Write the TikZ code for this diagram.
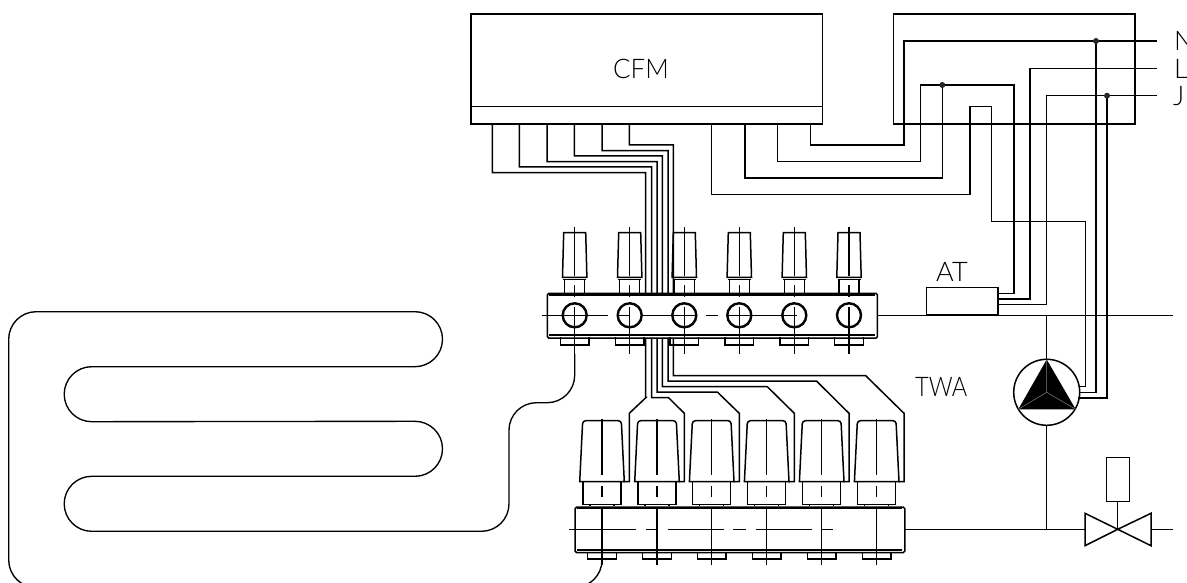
\documentclass[tikz,border=0pt]{standalone}
\usepackage{fontspec}
\newfontfamily\lblfont[UprightFont=* Light]{Lato}
\tikzset{
  wire/.style={line width=1.5pt,line join=miter},
  thin wire/.style={line width=1.35pt},
  heavy/.style={line width=2.4pt},
  part/.style={draw,line width=1.5pt,rectangle,inner sep=0pt,minimum width=#1},
  tag/.style={inner sep=0pt,anchor=base west,font=\lblfont\fontsize{27}{27}\selectfont},
  joint/.style={circle,fill=black!85,inner sep=0pt,minimum size=6pt},
}
\begin{document}
\begin{tikzpicture}[x=1pt,y=-1pt]
\useasboundingbox (0,0) rectangle (1187,583);
\clip (0,0) rectangle (1187,583);

% --- control module
\node[part=351.7pt,minimum height=110pt,anchor=north west] (cfm) at (470,13.3) {};
\draw[wire] (470,106.7) -- (821.7,106.7);
\node[tag,xscale=.96] (cfmt) at (613,79) {CFM};

% --- junction frame
\node[part=241.6pt,minimum height=110pt,anchor=north west] (frame) at (892.7,13.3) {};

% --- terminals
\node[tag] (tN) at (1174,51) {N};
\node[tag] (tL) at (1174,78.5) {L};
\node[tag] (tJ) at (1173,106) {J};
\coordinate (N) at (1156.7,41);
\coordinate (L) at (1156.7,68.3);
\coordinate (J) at (1156.7,95.7);

% --- thermostat, pump, actuated valve
\node[part=71.6pt,minimum height=27.3pt,anchor=south west] (at) at (925.7,315.3) {};
\node[tag] (att) at (936,281.7) {AT};
\node[tag,xscale=.87] (twat) at (915,396.7) {TWA};
\node[circle,draw,line width=1.5pt,minimum size=66pt,inner sep=0pt] (pump) at (1046.7,392.3) {};
\coordinate (pa) at (1046.7,359.5);
\coordinate (pb) at (1018.3,409.3);
\coordinate (pc) at (1075.7,409.3);
\fill[black] (pa) -- (pb) -- (pc) -- cycle;
\draw[gray,line width=.5pt] (pa) -- (pump.center) -- (pb) (pump.center) -- (pc);
\coordinate (vL1) at (1085,513.3);
\coordinate (vL2) at (1085,545.7);
\coordinate (vR1) at (1151,513.3);
\coordinate (vR2) at (1151,545.7);
\coordinate (vC) at (1117.7,529.3);
\draw[wire,line join=miter] (vC) -- (vL1) -- (vL2) -- (vC) -- (vR1) -- (vR2) -- cycle;
\node[part=22.6pt,minimum height=44pt,anchor=south] (act) at (1118,502) {};
\draw[wire] (act.south -| vC) -- (vC);

% --- supply pipes
\coordinate (pipeT) at (1173.3,315.3);
\coordinate (pipeB) at (1173.3,529.3);
\coordinate (teeT) at (1046.7,315.3);
\coordinate (teeB) at (1046.7,529.3);
\draw[wire] (816,315.3) -- (pipeT);
\draw[wire] (843.3,529.3) -- (1085,529.3);
\draw[wire] (1151,529.3) -- (pipeB);
\draw[wire] (teeT) -- (pump.north);
\draw[wire] (pump.south) -- (teeB);

% --- wiring bundle from CFM to the six lower valve heads
\foreach \sx/\hy/\vx/\ny/\kx/\tx/\bx in {
  492.3/172.7/645.7/397.5/646/629.3/623.3,
  519.3/167/651.5/397.5/668.3/684.3/678.3,
  547/161.7/657/392/717.3/739.3/733.3,
  574.3/156/662.3/386.7/767.3/794.3/788.3,
  602/150.7/668/381.2/816.7/849/843.3,
  629.3/145/673.3/375.7/865.7/904/898.3}{
  \draw[wire] (\sx,123.3) -- (\sx,\hy) -- (\vx,\hy) -- (\vx,\ny) -- (\kx,\ny) -- (\tx,413.3) -- (\tx,481.7) -- (\bx,481.7);
}

% --- wiring between CFM, frame, AT, pump
\draw[wire] (810.3,123.3) -- (810.3,145) -- (904,145) -- (904,41) -- (N);
\draw[wire] (777.3,123.3) -- (777.3,161.7) -- (920.3,161.7) -- (920.3,85) -- (1014,85) -- (1014,293.3) -- (997.3,293.3);
\draw[wire] (745,123.3) -- (745,178) -- (942.3,178) -- (942.3,85);
\draw[wire] (711.7,123.3) -- (711.7,194.7) -- (970,194.7) -- (970,106.7) -- (991.7,106.7) -- (991.7,221.7) -- (1085.3,221.7) -- (1085.3,386.7) -- (1079.3,386.7);
\draw[wire] (L) -- (1030,68.3) -- (1030,299) -- (997.3,299);
\draw[wire] (J) -- (1046.7,95.7) -- (1046.7,304.3) -- (997.3,304.3);
\draw[wire] (1096,41) -- (1096,392.3) -- (1079.5,392.3);
\draw[wire] (1107,95.7) -- (1107,398) -- (1077.5,398);
\node[joint] (j1) at (1096,41) {};
\node[joint] (j2) at (942.3,85) {};
\node[joint] (j3) at (1107,95.7) {};

% --- upper manifold
\node[part=330pt,minimum height=44.8pt,anchor=north west,fill=white,rounded corners=1.5pt] (upper) at (546.7,292.6) {};
\draw[wire] (549,295) -- (874.5,295);
\draw[wire] (549,335) -- (874.5,335);
\foreach \a/\b in {542.3/608.3,617.3/630,643.3/696.7,706/718.3,726.7/796.7}
  \draw[wire] (\a,315.3) -- (\b,315.3);
\foreach \x in {574.7,629.7,684.3,739.3,794.3,849}{
  \draw[wire] (\x-11,232.7) -- (\x+11,232.7) -- (\x+12.2,277.3) -- (\x-12.2,277.3) -- cycle;
  \draw[wire] (\x-11.5,279.4) -- (\x+11.5,279.4);
  \draw[wire] (\x-10,279.4) -- (\x-10,292.6) (\x+10,279.4) -- (\x+10,292.6);
  \draw[wire] (\x-14.4,337.4) -- (\x-14.4,345) -- (\x+14.4,345) -- (\x+14.4,337.4);
  \draw[wire] (\x,227.3) -- (\x,276) (\x,285) -- (\x,297) (\x,307) -- (\x,354);
  \draw[heavy] (\x,315.3) circle[radius=12];
}

% --- lower manifold
\node[part=329.7pt,minimum height=45.4pt,anchor=north west,fill=white,rounded corners=1.5pt] (lower) at (574.3,506.4) {};
\draw[wire] (576.5,508.3) -- (901.8,508.3);
\draw[wire] (576.5,549.8) -- (901.8,549.8);
\foreach \a/\b in {569.3/636,646/656.7,667.7/723.7,733.3/746,755.7/811.7,822.3/833.3}
  \draw[wire] (\a,529.3) -- (\b,529.3);
\foreach \x in {602,657,711.7,766.7,821.7,876.7}{
  \draw[wire] (\x-22.3,481.7) [rounded corners=3pt] -- (\x-19.3,420.7) -- (\x+19.3,420.7) [sharp corners] -- (\x+22.3,481.7) -- cycle;
  \draw[wire] (\x-19,481.7) -- (\x-19,504.3) -- (\x+19,504.3) -- (\x+19,481.7);
  \draw[wire] (\x-12,504.3) -- (\x-12,506.4) (\x+12,504.3) -- (\x+12,506.4);
  \draw[wire] (\x-14.3,551.7) -- (\x-14.3,559) -- (\x+14.3,559) -- (\x+14.3,551.7);
  \draw[wire] (\x,419) -- (\x,475) (\x,486) -- (\x,497.3) (\x,508) -- (\x,565);
}

% --- floor heating loop
\coordinate (loopA) at (574.7,354);
\coordinate (loopB) at (602,560);
\draw[thin wire] (loopA) -- (574.7,375.2) arc[start angle=0,end angle=90,radius=27.5] -- (536.5,402.7)
  arc[start angle=270,end angle=180,radius=27.5] -- (509,503.8)
  arc[start angle=0,end angle=90,radius=27.5] -- (91.7,531.3)
  arc[start angle=90,end angle=270,radius=27.5] -- (415,476.3)
  arc[start angle=90,end angle=-90,radius=27.5] -- (91.7,421.7)
  arc[start angle=90,end angle=270,radius=27.5] -- (415,366.7)
  arc[start angle=90,end angle=-90,radius=27.5] -- (36.2,311.7)
  arc[start angle=270,end angle=180,radius=27.5] -- (8.7,560)
  arc[start angle=180,end angle=90,radius=27.5] -- (574.5,587.5)
  arc[start angle=90,end angle=0,radius=27.5] -- (loopB);
\end{tikzpicture}
\end{document}
